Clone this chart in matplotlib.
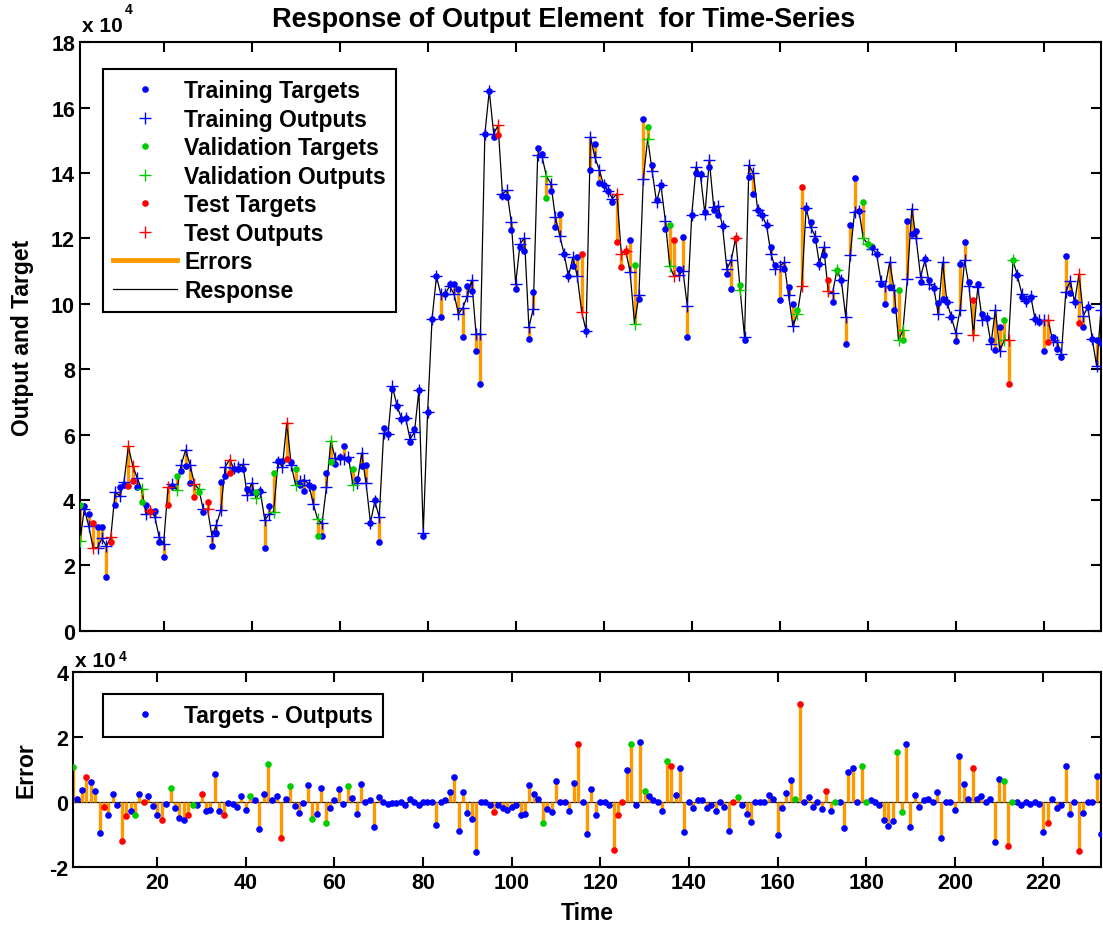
import numpy as np
import matplotlib.pyplot as plt
from matplotlib.lines import Line2D
from matplotlib.ticker import FuncFormatter, MultipleLocator

plt.rcParams['font.family'] = ['Liberation Sans', 'DejaVu Sans']
plt.rcParams['font.weight'] = 'bold'

# targets and errors (target - output), in units of 1e4, time steps 1..233
targets_e4 = [
    3.84, 3.82, 3.57, 3.29, 3.16, 3.16, 1.63, 2.70, 3.84, 4.38,
    4.45, 4.43, 4.59, 4.38, 3.92, 3.84, 3.67, 3.67, 2.72, 2.24,
    3.84, 4.43, 4.74, 4.89, 5.05, 4.51, 4.08, 4.23, 3.64, 3.94,
    2.59, 2.98, 4.56, 4.72, 4.82, 4.94, 4.94, 4.94, 4.33, 4.25,
    4.23, 4.28, 2.54, 3.82, 4.82, 5.20, 5.20, 5.25, 5.17, 4.94,
    4.45, 4.28, 4.45, 4.39, 2.90, 2.90, 4.82, 5.15, 5.10, 5.30,
    5.64, 5.25, 4.95, 4.64, 5.05, 5.07, 3.30, 4.01, 2.70, 6.19,
    6.02, 7.40, 6.87, 6.48, 6.50, 5.76, 6.17, 7.35, 2.90, 6.70,
    9.54, 10.84, 9.59, 10.30, 10.60, 10.61, 10.46, 8.98, 10.56, 10.39,
    8.57, 7.55, 15.20, 16.52, 15.11, 15.16, 13.29, 13.27, 12.25, 10.46,
    11.74, 11.63, 8.93, 10.36, 14.78, 14.60, 13.24, 13.45, 12.35, 12.74,
    11.53, 10.84, 11.15, 11.43, 11.53, 9.18, 14.11, 14.88, 13.70, 13.63,
    13.45, 13.12, 11.89, 11.13, 11.63, 11.94, 11.18, 10.16, 15.67, 15.41,
    14.24, 13.17, 13.63, 12.28, 12.40, 11.96, 11.07, 12.06, 9.00, 12.71,
    14.00, 13.96, 12.81, 14.19, 12.86, 12.71, 12.37, 10.92, 10.46, 12.02,
    10.59, 8.88, 13.88, 13.37, 12.86, 12.71, 12.40, 11.74, 11.18, 10.12,
    11.07, 10.53, 10.00, 9.80, 13.58, 12.94, 12.50, 11.94, 11.23, 11.51,
    10.72, 10.05, 11.04, 10.72, 8.78, 12.40, 13.85, 12.84, 13.12, 11.84,
    11.74, 11.53, 10.61, 10.00, 10.53, 9.82, 10.43, 8.90, 12.55, 12.15,
    12.22, 10.66, 11.38, 10.72, 10.49, 10.02, 10.16, 10.05, 9.59, 8.86,
    11.23, 11.89, 10.66, 10.12, 10.61, 9.70, 9.57, 8.88, 8.59, 9.29,
    9.51, 7.55, 11.33, 10.87, 10.20, 10.10, 10.20, 9.54, 9.44, 8.57,
    8.83, 8.98, 8.62, 8.37, 11.46, 10.33, 10.05, 9.41, 9.29, 9.90,
    8.93, 8.90, 8.80,
]
errors_e4 = [
    1.09, 0.10, 0.38, 0.77, 0.62, 0.34, -0.95, -0.15, -0.41, 0.26,
    -0.10, -1.21, -0.44, -0.29, -0.41, 0.26, 0.00, 0.18, -0.13, -0.41,
    -0.54, -0.05, 0.44, -0.18, -0.48, -0.57, -0.41, -0.10, -0.08, 0.23,
    -0.29, -0.26, 0.87, -0.29, -0.41, -0.02, -0.07, -0.15, 0.18, -0.26,
    0.18, 0.05, -0.84, 0.26, 1.18, 0.05, 0.18, -1.11, 0.10, 0.49,
    -0.13, -0.34, -0.02, 0.51, -0.51, -0.38, 0.44, -0.65, -0.18, 0.05,
    0.39, -0.05, 0.48, 0.12, -0.38, 0.56, 0.00, 0.05, -0.77, 0.15,
    0.00, -0.07, -0.03, -0.03, 0.00, -0.10, 0.10, 0.00, -0.10, 0.00,
    0.00, 0.00, -0.70, 0.00, 0.05, 0.32, 0.76, -0.90, 0.32, -0.33,
    -0.51, -1.53, 0.00, 0.00, -0.10, -0.30, -0.08, -0.20, -0.25, -0.15,
    -0.10, -0.39, -0.36, 0.51, 0.23, 0.10, -0.66, -0.23, -0.31, 0.65,
    0.00, 0.00, -0.28, 0.59, 1.78, 0.00, -1.00, 0.40, -0.40, 0.00,
    0.00, -0.10, -1.48, -0.40, 0.00, 0.97, 1.79, -0.10, 1.84, 0.35,
    0.17, 0.05, 0.00, -0.27, 1.25, 1.12, 0.20, 1.04, -0.92, 0.00,
    -0.20, 0.05, 0.07, -0.20, -0.10, -0.29, 0.00, -0.15, -0.89, 0.00,
    0.16, -0.10, -0.36, -0.63, 0.00, 0.00, 0.00, 0.20, 0.10, -1.03,
    -0.20, 0.27, 0.69, 0.10, 3.02, 0.00, 0.15, -0.15, 0.00, -0.23,
    0.33, -0.28, 0.00, 0.00, -0.81, 0.92, 1.04, 0.00, 1.12, 0.00,
    0.05, 0.00, -0.10, -0.56, -0.75, -0.60, 1.55, -0.30, 1.78, -0.76,
    0.22, -0.17, 0.05, 0.10, 0.00, 0.32, -1.12, 0.00, 0.00, -0.25,
    1.41, 0.56, 0.10, 1.06, 0.10, 0.18, 0.00, 0.10, -1.23, 0.72,
    0.63, -1.35, 0.00, 0.00, -0.10, 0.00, -0.05, 0.00, -0.05, -0.92,
    -0.66, 0.10, -0.20, -0.10, 1.10, -0.38, 0.00, -1.51, -0.35, 0.00,
    0.00, 0.80, -1.00,
]
# time steps that belong to the validation and test sets (rest is training)
val_steps = [1, 15, 23, 28, 41, 45, 50, 55, 58, 63, 107, 127, 130, 135,
             151, 164, 173, 179, 180, 187, 188, 211, 213]
test_steps = [4, 8, 12, 13, 17, 21, 27, 30, 35, 48, 96, 115, 123, 124,
              125, 136, 150, 165, 171, 204, 212, 221, 228]

time = np.arange(1, len(targets_e4) + 1)
targets = np.array(targets_e4) * 1e4
errors = np.array(errors_e4) * 1e4
outputs = targets - errors

group = np.zeros(len(time), dtype=int)
group[np.array(val_steps) - 1] = 1
group[np.array(test_steps) - 1] = 2

BLUE = '#0000ff'
GREEN = '#00cc00'
RED = '#ff0000'
ORANGE = '#ff9900'
colors = [BLUE, GREEN, RED]
names = ['Training', 'Validation', 'Test']
DOT = 7.5
PLUS = 8

fig = plt.figure(figsize=(11.03, 9.29), dpi=100)
ax1 = fig.add_axes([0.0725, 0.3202, 0.9257, 0.6330])
ax2 = fig.add_axes([0.0662, 0.0657, 0.9320, 0.2099])

# top: response
ax1.vlines(time, outputs, targets, color=ORANGE, lw=2.4, zorder=1)
ax1.plot(time, outputs, color='k', lw=0.9, zorder=2)
for k in range(3):
    m = group == k
    ax1.plot(time[m], targets[m], '.', color=colors[k], ms=DOT, zorder=3)
    ax1.plot(time[m], outputs[m], '+', color=colors[k], ms=PLUS, mew=1.0,
             zorder=3)

# bottom: errors
ax2.axhline(0, color='k', lw=0.9, zorder=1)
ax2.vlines(time, 0, errors, color=ORANGE, lw=2.4, zorder=2)
for k in range(3):
    m = group == k
    ax2.plot(time[m], errors[m], '.', color=colors[k], ms=DOT, zorder=3)

fmt = FuncFormatter(lambda v, p: '%g' % (v / 1e4))
for ax in (ax1, ax2):
    ax.set_xlim(1, 233)
    ax.xaxis.set_major_locator(MultipleLocator(20))
    ax.yaxis.set_major_locator(MultipleLocator(2e4))
    ax.yaxis.set_major_formatter(fmt)
    ax.tick_params(direction='in', top=True, right=True, length=7, width=1.5,
                   labelsize=15.5)
    for s in ax.spines.values():
        s.set_linewidth(1.5)
    ax.text(0.002, 1.012, 'x 10', transform=ax.transAxes, fontsize=15,
            ha='left', va='bottom')
    ax.text(0.044, 1.045, '4', transform=ax.transAxes, fontsize=10,
            ha='left', va='bottom')

ax1.set_ylim(0, 18e4)
ax1.set_xticklabels([])
ax2.set_ylim(-2e4, 4e4)

ax1.set_title('Response of Output Element  for Time-Series', fontsize=19.5,
              fontweight='bold', pad=12, x=0.474)
ax1.set_ylabel('Output and Target', fontsize=16.5, fontweight='bold',
               labelpad=12)
ax2.set_ylabel('Error', fontsize=16.5, fontweight='bold', labelpad=8)
ax2.set_xlabel('Time', fontsize=16.5, fontweight='bold', labelpad=6)

handles = []
for k in range(3):
    handles.append(Line2D([], [], ls='none', marker='.', ms=DOT,
                          color=colors[k], label=names[k] + ' Targets'))
    handles.append(Line2D([], [], ls='none', marker='+', ms=PLUS, mew=1.0,
                          color=colors[k], label=names[k] + ' Outputs'))
handles.append(Line2D([], [], color=ORANGE, lw=3.5, label='Errors'))
handles.append(Line2D([], [], color='k', lw=0.9, label='Response'))

leg_kw = dict(loc='upper left', frameon=True, fancybox=False, framealpha=1,
              edgecolor='k', borderaxespad=0, handlelength=2.8,
              handletextpad=0.3, borderpad=0.45,
              prop={'size': 16.5, 'weight': 'bold'})
leg1 = ax1.legend(handles=handles, bbox_to_anchor=(0.0225, 0.955),
                  labelspacing=0.24, **leg_kw)
leg1.get_frame().set_linewidth(1.5)

h2 = [Line2D([], [], ls='none', marker='.', ms=DOT, color=BLUE,
             label='Targets - Outputs')]
leg2 = ax2.legend(handles=h2, bbox_to_anchor=(0.0287, 0.888), **leg_kw)
leg2.get_frame().set_linewidth(1.5)

fig.savefig('out.png', dpi=100)
